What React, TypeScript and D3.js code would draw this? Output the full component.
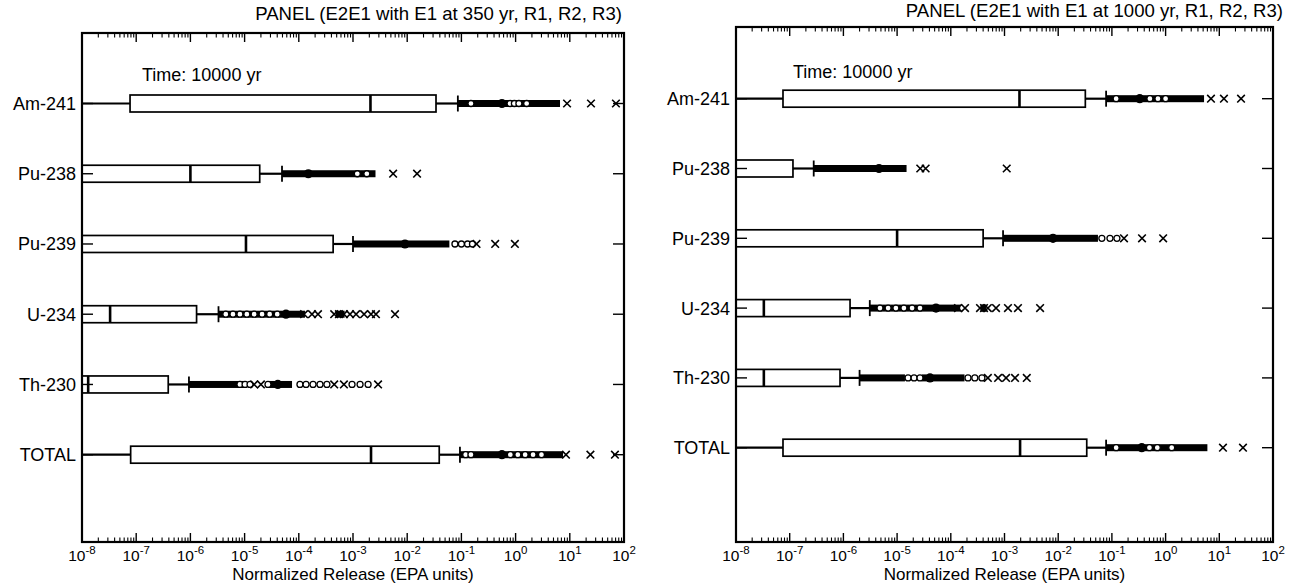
import React from "react";
import * as d3 from "d3";

// ---------- shared ----------
const categories = ["Am-241", "Pu-238", "Pu-239", "U-234", "Th-230", "TOTAL"];
const tickExponents = [-8, -7, -6, -5, -4, -3, -2, -1, 0, 1, 2];
const timeLabel = "Time: 10000 yr";
const xAxisTitle = "Normalized Release (EPA units)";

// ---------- Panel A : E1 at 350 yr ----------
const titleA = "PANEL (E2E1 with E1 at 350 yr, R1, R2, R3)";
const lowA = [5e-9, 1e-9, 1e-9, 1e-9, 1e-9, 5e-9];
const q1A = [7.7e-8, 5e-9, 5e-9, 5e-9, 5e-9, 7.9e-8];
const medA = [2.1e-3, 1.0e-6, 1.06e-5, 3.3e-8, 1.3e-8, 2.15e-3];
const q3A = [3.4e-2, 1.9e-5, 4.3e-4, 1.3e-6, 3.9e-7, 3.9e-2];
const highA = [8.6e-2, 4.9e-5, 1.0e-3, 3.3e-6, 9.4e-7, 9.4e-2];
const meanA = [0.56, 1.5e-4, 9.1e-3, 5.8e-5, 4.1e-5, 0.56];
const denseA: [number, number][][] = [
  [[8.6e-2, 6.6]],
  [[4.9e-5, 2.6e-3]],
  [[1.0e-3, 0.06]],
  [[3.3e-6, 1.3e-4], [4.8e-4, 7.0e-4]],
  [[9.4e-7, 1.0e-5], [2.8e-5, 7.5e-5]],
  [[9.4e-2, 7.5]],
];
const circlesA = [
  [0.15, 0.79, 0.95, 1.15, 1.6],
  [1.2e-3, 1.8e-3],
  [0.076, 0.1, 0.13, 0.16],
  [4.5e-6, 6.1e-6, 8.2e-6, 1.1e-5, 1.5e-5, 2.1e-5, 2.9e-5, 4.0e-5],
  [8.2e-6, 1.02e-5, 1.26e-5, 2.7e-5, 1.05e-4, 1.36e-4, 1.83e-4, 2.46e-4, 3.3e-4, 9.6e-4, 1.35e-3, 1.9e-3],
  [0.12, 0.15, 0.8, 1.1, 1.5, 2.1, 3.0],
];
const crossesA = [
  [8.9, 24.6, 71],
  [5.5e-3, 1.52e-2],
  [0.19, 0.42, 0.97],
  [1.25e-4, 1.75e-4, 2.26e-4, 4.5e-4, 5.5e-4, 6.8e-4, 8.8e-4, 1.14e-3, 1.6e-3, 2.15e-3, 2.65e-3, 5.96e-3],
  [1.5e-5, 2.0e-5, 4.5e-4, 6.8e-4, 2.9e-3],
  [8.5, 24, 68],
];

// ---------- Panel B : E1 at 1000 yr ----------
const titleB = "PANEL (E2E1 with E1 at 1000 yr, R1, R2, R3)";
const lowB = [5e-9, 1e-9, 1e-9, 1e-9, 1e-9, 5e-9];
const q1B = [7.5e-8, 5e-9, 5e-9, 5e-9, 5e-9, 7.5e-8];
const medB = [1.9e-3, 8e-9, 1.0e-5, 3.3e-8, 3.3e-8, 1.95e-3];
const q3B = [3.2e-2, 1.15e-7, 4.0e-4, 1.33e-6, 8.65e-7, 3.4e-2];
const highB = [7.8e-2, 2.8e-7, 9.4e-4, 3.1e-6, 2.0e-6, 7.8e-2];
const meanB = [0.33, 4.6e-6, 8.0e-3, 5.3e-5, 4.1e-5, 0.36];
const denseB: [number, number][][] = [
  [[7.8e-2, 5.2]],
  [[2.8e-7, 1.5e-5]],
  [[9.4e-4, 0.055]],
  [[3.1e-6, 1.5e-4], [3.6e-4, 4.6e-4]],
  [[2.0e-6, 1.4e-5], [2.9e-5, 1.8e-4]],
  [[7.8e-2, 6.0]],
];
const circlesB = [
  [0.12, 0.51, 0.72, 1.0],
  [],
  [0.065, 0.092, 0.124],
  [4.8e-6, 6.8e-6, 9.5e-6, 1.34e-5, 1.9e-5, 2.67e-5],
  [1.6e-5, 2.07e-5, 2.67e-5, 2.09e-4, 2.8e-4, 3.8e-4],
  [0.12, 0.5, 0.7, 1.3],
];
const crossesB = [
  [7.0, 12.2, 25.4],
  [2.7e-5, 3.4e-5, 1.1e-3],
  [0.168, 0.364, 0.9],
  [1.36e-4, 1.84e-4, 3.5e-4, 4.15e-4, 4.9e-4, 6.95e-4, 1.16e-3, 1.78e-3, 4.6e-3],
  [4.9e-4, 7.6e-4, 1.07e-3, 1.57e-3, 2.6e-3],
  [11.7, 27.6],
];

const FONT = "'Liberation Sans', Arial, Helvetica, sans-serif";

type PanelProps = {
  id: string;
  title: string;
  titleX: number;
  titleY: number;
  left: number;
  right: number;
  top: number;
  bottom: number;
  rowTop: number;
  rowBottom: number;
  timeX: number;
  timeY: number;
  low: number[];
  q1: number[];
  med: number[];
  q3: number[];
  high: number[];
  mean: number[];
  dense: [number, number][][];
  circles: number[][];
  crosses: number[][];
};

function Panel(p: PanelProps) {
  const x = d3.scaleLog().domain([1e-8, 1e2]).range([p.left, p.right]);
  const y = d3.scalePoint<string>().domain(categories).range([p.rowTop, p.rowBottom]);
  const boxH = 17;
  const capH = 16;
  const bandH = 7;
  const minorTicks: number[] = [];
  for (let e = -8; e < 2; e++) {
    for (let m = 2; m <= 9; m++) minorTicks.push(m * Math.pow(10, e));
  }
  const clipId = "clip-" + p.id;
  return (
    <g>
      <defs>
        <clipPath id={clipId}>
          <rect x={p.left} y={p.top} width={p.right - p.left} height={p.bottom - p.top} />
        </clipPath>
      </defs>
      <text x={p.titleX} y={p.titleY} textAnchor="end" fontSize={18.6} fontFamily={FONT}>
        {p.title}
      </text>
      <text x={p.timeX} y={p.timeY} fontSize={18} fontFamily={FONT}>
        {timeLabel}
      </text>
      <g clipPath={`url(#${clipId})`}>
        {categories.map((c, i) => {
          const cy = y(c)!;
          return (
            <g key={c}>
              <line x1={x(p.low[i])} x2={x(p.q1[i])} y1={cy} y2={cy} stroke="#000" strokeWidth={2.2} />
              <line x1={x(p.q3[i])} x2={x(p.high[i])} y1={cy} y2={cy} stroke="#000" strokeWidth={2.2} />
              <line x1={x(p.high[i])} x2={x(p.high[i])} y1={cy - capH / 2} y2={cy + capH / 2} stroke="#000" strokeWidth={1.8} />
              <rect
                x={x(p.q1[i])}
                y={cy - boxH / 2}
                width={x(p.q3[i]) - x(p.q1[i])}
                height={boxH}
                fill="#fff"
                stroke="#000"
                strokeWidth={1.7}
              />
              <line x1={x(p.med[i])} x2={x(p.med[i])} y1={cy - boxH / 2} y2={cy + boxH / 2} stroke="#000" strokeWidth={2.6} />
              {p.dense[i].map((d, j) => (
                <rect key={j} x={x(d[0])} y={cy - bandH / 2} width={x(d[1]) - x(d[0])} height={bandH} fill="#000" />
              ))}
              {p.circles[i].map((v, j) => (
                <circle key={"c" + j} cx={x(v)} cy={cy} r={3} fill="#fff" stroke="#000" strokeWidth={1.3} />
              ))}
              <circle cx={x(p.mean[i])} cy={cy} r={4.6} fill="#000" />
              {p.crosses[i].map((v, j) => (
                <path
                  key={"x" + j}
                  d={`M${x(v) - 3.8},${cy - 3.8}L${x(v) + 3.8},${cy + 3.8}M${x(v) - 3.8},${cy + 3.8}L${x(v) + 3.8},${cy - 3.8}`}
                  stroke="#000"
                  strokeWidth={1.6}
                  fill="none"
                />
              ))}
            </g>
          );
        })}
      </g>
      <rect x={p.left} y={p.top} width={p.right - p.left} height={p.bottom - p.top} fill="none" stroke="#000" strokeWidth={2.2} />
      {categories.map((c) => (
        <g key={"yt" + c}>
          <line x1={p.left} x2={p.left + 11} y1={y(c)!} y2={y(c)!} stroke="#000" strokeWidth={1.4} />
          <line x1={p.right - 11} x2={p.right} y1={y(c)!} y2={y(c)!} stroke="#000" strokeWidth={1.4} />
          <text x={p.left - 6} y={y(c)! + 6.5} textAnchor="end" fontSize={18} fontFamily={FONT}>
            {c}
          </text>
        </g>
      ))}
      {minorTicks.map((v, i) => (
        <g key={"mt" + i}>
          <line x1={x(v)} x2={x(v)} y1={p.bottom} y2={p.bottom - 4.5} stroke="#000" strokeWidth={1.1} />
          <line x1={x(v)} x2={x(v)} y1={p.top} y2={p.top + 4.5} stroke="#000" strokeWidth={1.1} />
        </g>
      ))}
      {tickExponents.map((e) => {
        const xv = x(Math.pow(10, e));
        return (
          <g key={"Mt" + e}>
            <line x1={xv} x2={xv} y1={p.bottom} y2={p.bottom - 9} stroke="#000" strokeWidth={1.4} />
            <line x1={xv} x2={xv} y1={p.top} y2={p.top + 9} stroke="#000" strokeWidth={1.4} />
            <text x={xv} y={p.bottom + 18.5} textAnchor="middle" fontSize={15.5} fontFamily={FONT}>
              <tspan>10</tspan>
              <tspan dy={-7} fontSize={11.5}>
                {String(e)}
              </tspan>
            </text>
          </g>
        );
      })}
      <text x={(p.left + p.right) / 2} y={p.bottom + 38} textAnchor="middle" fontSize={17} fontFamily={FONT}>
        {xAxisTitle}
      </text>
    </g>
  );
}

export default function App() {
  return (
    <svg
      width={1302}
      height={584}
      viewBox="0 0 1302 584"
      style={{ position: "absolute", left: 0, top: 0, display: "block", background: "#fff" }}
    >
      <Panel
        id="a"
        title={titleA}
        titleX={622}
        titleY={20}
        left={82}
        right={624}
        top={33}
        bottom={542}
        rowTop={103.5}
        rowBottom={454.7}
        timeX={142}
        timeY={81}
        low={lowA}
        q1={q1A}
        med={medA}
        q3={q3A}
        high={highA}
        mean={meanA}
        dense={denseA}
        circles={circlesA}
        crosses={crossesA}
      />
      <Panel
        id="b"
        title={titleB}
        titleX={1283}
        titleY={17}
        left={736}
        right={1273}
        top={27}
        bottom={542}
        rowTop={98.7}
        rowBottom={447.7}
        timeX={793}
        timeY={78}
        low={lowB}
        q1={q1B}
        med={medB}
        q3={q3B}
        high={highB}
        mean={meanB}
        dense={denseB}
        circles={circlesB}
        crosses={crossesB}
      />
    </svg>
  );
}
